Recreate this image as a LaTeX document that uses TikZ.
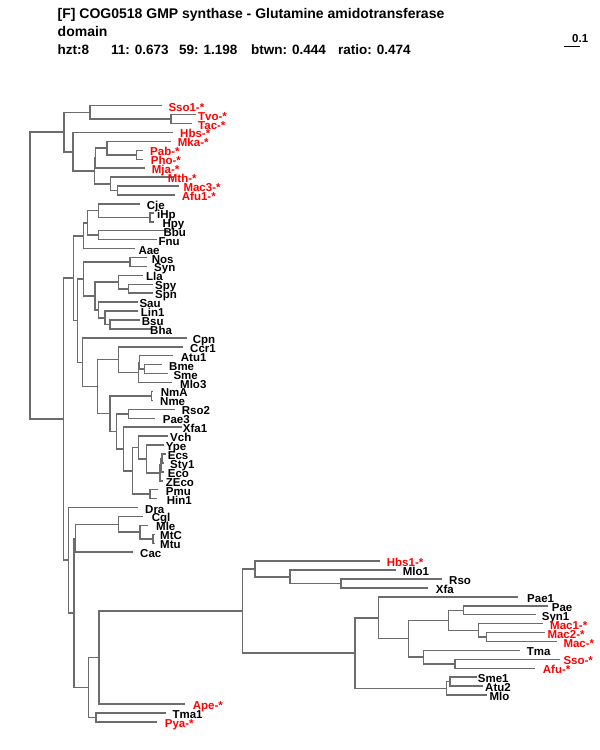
\documentclass[tikz,border=0pt]{standalone}
\usepackage{fontspec}
\setmainfont{Liberation Sans}
\definecolor{branchgray}{RGB}{108,108,108}
\definecolor{labred}{RGB}{255,0,0}
\tikzset{
  branch/.style={draw=branchgray, line width=1.5pt},
  lab/.style={font=\bfseries\fontsize{11.5}{12}\selectfont, inner sep=0pt, anchor=base west, text=black},
  labr/.style={lab, text=labred},
  ttl/.style={font=\bfseries\fontsize{14}{15}\selectfont, inner sep=0pt, anchor=base west, text=black},
  stat/.style={font=\bfseries\fontsize{13.5}{15}\selectfont, inner sep=0pt, anchor=base west, text=black},
  scalebar/.style={draw=black, line width=1pt}
}
\newcommand\mknode[4]{\coordinate (#1) at (#3,#4); \draw[branch] (#2) |- (#1);}
\newcommand\mkleaf[7]{\coordinate (#1) at (#3,#4); \draw[branch] (#2) |- (#1); \node[#7] (t#1) at (#5,#4+5.5) {#6};}
\begin{document}
\begin{tikzpicture}[x=1pt,y=-1pt]
\useasboundingbox (0,0) rectangle (600,750);
% title
\node[ttl] (title1) at (57.5,18) {[F] COG0518 GMP synthase - Glutamine amidotransferase};
\node[ttl] (title2) at (57.5,36) {domain};
\node[stat] (s1) at (57.5,54) {hzt:8};
\node[stat] (s2) at (111,54) {11: 0.673};
\node[stat] (s3) at (179,54) {59: 1.198};
\node[stat] (s4) at (251,54) {btwn: 0.444};
\node[stat] (s5) at (338,54) {ratio: 0.474};
% scale
\node[lab] (sclab) at (572,42.5) {0.1};
\coordinate (sb1) at (563.5,46.5);
\coordinate (sb2) at (580,46.5);
\draw[scalebar] (sb1) -- (sb2);
% tree
\coordinate (root) at (30,275.65);
% archaea
\mknode{nA1}{root}{64}{132.08}
\mknode{nA2}{nA1}{90}{112.40}
\mkleaf{Sso1}{nA2}{162.3}{105.70}{168.3}{Sso1-*}{labr}
\mknode{nA2b}{nA2}{171}{119.10}
\mkleaf{Tvo}{nA2b}{195.7}{114.63}{198}{Tvo-*}{labr}
\mkleaf{Tac}{nA2b}{191.7}{123.56}{198}{Tac-*}{labr}
\mknode{nA3}{nA1}{73}{151.75}
\mkleaf{Hbs}{nA3}{172.7}{132.49}{180}{Hbs-*}{labr}
\mknode{nA4}{nA3}{94.3}{171.00}
\mknode{nA5}{nA4}{95.7}{158.17}
\mknode{nA7}{nA5}{107}{148.12}
\mkleaf{Mka}{nA7}{170.7}{141.42}{177.7}{Mka-*}{labr}
\mknode{nA8}{nA7}{136.7}{154.82}
\mkleaf{Pab}{nA8}{142.7}{150.35}{150}{Pab-*}{labr}
\mkleaf{Pho}{nA8}{142.7}{159.28}{150.7}{Pho-*}{labr}
\mkleaf{Mja}{nA5}{145}{168.21}{151.7}{Mja-*}{labr}
\mknode{nA6}{nA4}{110.7}{183.84}
\mkleaf{Mth}{nA6}{174}{177.14}{167.7}{Mth-*}{labr}
\mknode{nA9}{nA6}{117.3}{190.54}
\mkleaf{Mac3}{nA9}{179}{186.07}{183.3}{Mac3-*}{labr}
\mkleaf{Afu1}{nA9}{175}{195.00}{181.7}{Afu1-*}{labr}
% bacteria upper
\mknode{nB}{root}{63.3}{419.21}
\mknode{nB1}{nB}{73.3}{278.20}
\mknode{nH}{nB1}{83.3}{235.75}
\mknode{nH1}{nH}{87.3}{222.91}
\mknode{nH2}{nH1}{98.3}{210.63}
\mkleaf{Cje}{nH2}{140}{203.93}{146.7}{Cje}{lab}
\mknode{nH4}{nH2}{150}{217.33}
\mkleaf{iHp}{nH4}{154}{212.86}{157}{iHp}{lab}
\mkleaf{Hpy}{nH4}{154}{221.79}{162.3}{Hpy}{lab}
\mknode{nH3}{nH1}{98.3}{235.19}
\mkleaf{Bbu}{nH3}{168.3}{230.72}{163.3}{Bbu}{lab}
\mkleaf{Fnu}{nH3}{156.7}{239.65}{158.3}{Fnu}{lab}
\mkleaf{Aae}{nH}{135}{248.58}{138.3}{Aae}{lab}
\mknode{nP}{nB1}{77.3}{320.64}
\mknode{nG}{nP}{83.3}{279.00}
\mknode{nN1}{nG}{130}{261.98}
\mkleaf{Nos}{nN1}{146.7}{257.51}{151.7}{Nos}{lab}
\mkleaf{Syn}{nN1}{146.7}{266.44}{154}{Syn}{lab}
\mknode{nN4}{nG}{95}{296.03}
\mknode{nN2}{nN4}{118.3}{282.07}
\mkleaf{Lla}{nN2}{143.3}{275.37}{146}{Lla}{lab}
\mknode{nN3}{nN2}{128.3}{288.77}
\mkleaf{Spy}{nN3}{153.3}{284.30}{155}{Spy}{lab}
\mkleaf{Spn}{nN3}{153.3}{293.23}{155}{Spn}{lab}
\mknode{nN5}{nN4}{98.3}{309.98}
\mkleaf{Sau}{nN5}{138.3}{302.16}{139.3}{Sau}{lab}
\mknode{nN6}{nN5}{105}{317.79}
\mkleaf{Lin1}{nN6}{138.3}{311.09}{140.7}{Lin1}{lab}
\mknode{nN7}{nN6}{110}{324.49}
\mkleaf{Bsu}{nN7}{140}{320.02}{141.7}{Bsu}{lab}
\mkleaf{Bha}{nN7}{151.7}{328.95}{150}{Bha}{lab}
\mknode{nQ}{nP}{82.7}{362.27}
\mkleaf{Cpn}{nQ}{186.7}{337.88}{192.7}{Cpn}{lab}
\mknode{nR}{nQ}{97.7}{386.66}
\mknode{nS}{nR}{118.3}{359.65}
\mkleaf{Ccr1}{nS}{182.7}{346.81}{190}{Ccr1}{lab}
\mknode{nT}{nS}{138.3}{372.49}
\mknode{nT2}{nT}{139.5}{362.44}
\mkleaf{Atu1}{nT2}{173.3}{355.74}{180.7}{Atu1}{lab}
\mknode{nU}{nT2}{144.5}{369.14}
\mkleaf{Bme}{nU}{161.7}{364.67}{169}{Bme}{lab}
\mkleaf{Sme}{nU}{168.3}{373.60}{173.3}{Sme}{lab}
\mkleaf{Mlo3}{nT}{172}{382.53}{180}{Mlo3}{lab}
\mknode{nV}{nR}{110}{413.67}
\mknode{nW}{nV}{151.7}{395.93}
\mkleaf{NmA}{nW}{153.3}{391.46}{160.7}{NmA}{lab}
\mkleaf{Nme}{nW}{153.3}{400.39}{160}{Nme}{lab}
\mknode{nV2}{nV}{116.7}{431.41}
\mknode{nX}{nV2}{128.3}{413.79}
\mkleaf{Rso2}{nX}{175}{409.32}{181.7}{Rso2}{lab}
\mkleaf{Pae3}{nX}{155}{418.25}{162.7}{Pae3}{lab}
\mknode{nY}{nV2}{123.3}{449.02}
\mkleaf{Xfa1}{nY}{181.7}{427.18}{182.7}{Xfa1}{lab}
\mknode{nZ}{nY}{132.3}{470.86}
\mknode{nZ1}{nZ}{138.3}{447.56}
\mkleaf{Vch}{nZ1}{168.3}{436.11}{170}{Vch}{lab}
\mknode{nZ3}{nZ1}{146.7}{459.00}
\mkleaf{Ype}{nZ3}{164}{445.04}{165.7}{Ype}{lab}
\mknode{nZ4}{nZ3}{160}{472.95}
\mknode{nZ5}{nZ4}{161}{465.14}
\mknode{nZ6}{nZ5}{162}{458.44}
\mkleaf{Ecs}{nZ6}{166}{453.97}{167.7}{Ecs}{lab}
\mkleaf{Sty1}{nZ6}{164}{462.90}{170}{Sty1}{lab}
\mkleaf{Eco}{nZ5}{164}{471.83}{167.7}{Eco}{lab}
\mkleaf{ZEco}{nZ4}{163}{480.76}{165.7}{ZEco}{lab}
\mknode{nZ2}{nZ}{150}{494.16}
\mkleaf{Pmu}{nZ2}{158}{489.69}{165.7}{Pmu}{lab}
\mkleaf{Hin1}{nZ2}{157}{498.62}{166.7}{Hin1}{lab}
% bacteria lower
\mknode{nB2}{nB}{68.3}{560.21}
\mkleaf{Dra}{nB2}{137.7}{507.55}{145}{Dra}{lab}
\mknode{nE}{nB2}{74}{612.86}
\mknode{nE1}{nE}{75.3}{538.25}
\mknode{nC1}{nE1}{118.3}{524.30}
\mkleaf{Cgl}{nC1}{143.3}{516.48}{151.7}{Cgl}{lab}
\mknode{nC2}{nC1}{140}{532.11}
\mkleaf{Mle}{nC2}{148.3}{525.41}{156}{Mle}{lab}
\mknode{nC3}{nC2}{153}{538.81}
\mkleaf{MtC}{nC3}{155}{534.34}{160}{MtC}{lab}
\mkleaf{Mtu}{nC3}{155}{543.27}{160}{Mtu}{lab}
\mkleaf{Cac}{nE1}{133.3}{552.20}{140}{Cac}{lab}
\mknode{nD}{nE}{88.3}{687.47}
\mknode{nD1}{nD}{99}{657.52}
\mknode{nF}{nD1}{242.7}{611.02}
\mknode{nF1}{nF}{255}{568.95}
\mkleaf{Hbs1}{nF1}{380}{561.13}{386.7}{Hbs1-*}{labr}
\mknode{nF3}{nF1}{290}{576.76}
\mkleaf{Mlo1}{nF3}{395.7}{570.06}{402.7}{Mlo1}{lab}
\mknode{nF4}{nF3}{341}{583.46}
\mkleaf{Rso}{nF4}{441.7}{578.99}{449}{Rso}{lab}
\mkleaf{Xfa}{nF4}{428.3}{587.92}{435.7}{Xfa}{lab}
\mknode{nF2}{nF}{355}{653.09}
\mknode{nF5}{nF2}{378.3}{617.79}
\mkleaf{Pae1}{nF5}{518}{596.85}{527}{Pae1}{lab}
\mknode{nF8}{nF5}{408.3}{638.72}
\mknode{nF9}{nF8}{448.3}{620.30}
\mknode{nF11}{nF9}{463.3}{610.25}
\mkleaf{Pae}{nF11}{548.3}{605.78}{551.7}{Pae}{lab}
\mkleaf{Syn1}{nF11}{536}{614.71}{541.7}{Syn1}{lab}
\mknode{nF12}{nF9}{478.3}{630.34}
\mkleaf{Mac1}{nF12}{543.3}{623.64}{550}{Mac1-*}{labr}
\mknode{nF13}{nF12}{486.7}{637.04}
\mkleaf{Mac2}{nF13}{545}{632.57}{547.3}{Mac2-*}{labr}
\mkleaf{Mac}{nF13}{557}{641.50}{563.3}{Mac-*}{labr}
\mknode{nF10}{nF8}{423.3}{657.13}
\mkleaf{Tma}{nF10}{520}{650.43}{526.7}{Tma}{lab}
\mknode{nF14}{nF10}{455}{663.83}
\mkleaf{Sso}{nF14}{560}{659.36}{563.3}{Sso-*}{labr}
\mkleaf{Afu}{nF14}{535}{668.29}{542.7}{Afu-*}{labr}
\mknode{nF6}{nF2}{446.7}{688.39}
\mknode{nF7}{nF6}{450}{681.69}
\mkleaf{Sme1}{nF7}{476.7}{677.22}{477.7}{Sme1}{lab}
\mkleaf{Atu2}{nF7}{483.3}{686.15}{485}{Atu2}{lab}
\mkleaf{Mlo}{nF6}{486.7}{695.08}{489.3}{Mlo}{lab}
\mkleaf{Ape}{nD1}{185}{704.01}{192.7}{Ape-*}{labr}
\mknode{nD2}{nD}{96}{717.41}
\mkleaf{Tma1}{nD2}{166}{712.94}{172.3}{Tma1}{lab}
\mkleaf{Pya}{nD2}{157.3}{721.87}{164.7}{Pya-*}{labr}
\end{tikzpicture}
\end{document}
